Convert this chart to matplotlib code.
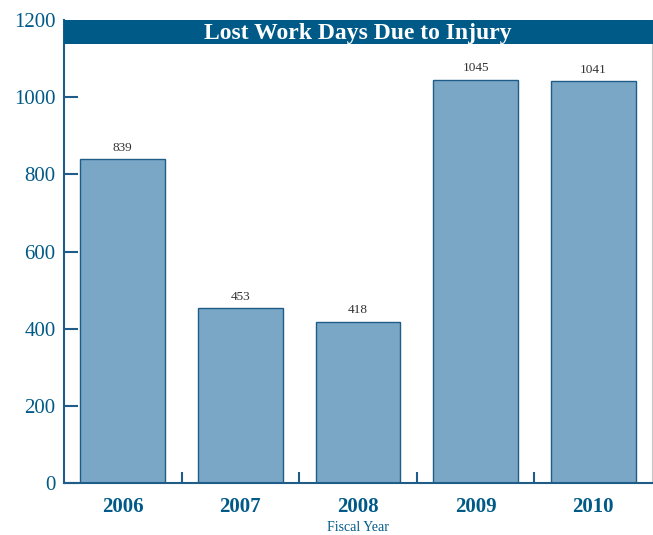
import matplotlib
matplotlib.use("Agg")
import matplotlib.pyplot as plt
from matplotlib.patches import Rectangle

years = ["2006", "2007", "2008", "2009", "2010"]
days = [839, 453, 418, 1045, 1041]
yticks = [0, 200, 400, 600, 800, 1000, 1200]

navy = "#005a87"
edge = "#1f5d88"
fill = "#7ba7c7"

plt.rcParams["font.family"] = ["Liberation Serif", "DejaVu Serif"]

fig = plt.figure(figsize=(6.53, 5.35), dpi=100)
ax = fig.add_axes([0.098, 0.0972, 0.9005, 0.8654])

x = range(len(years))
ax.bar(x, days, width=0.72, color=fill, edgecolor=edge, linewidth=1.0, zorder=2)
for xi, v in zip(x, days):
    ax.annotate(str(v), (xi, v), xytext=(0, 4), textcoords="offset points",
                ha="center", va="bottom", fontsize=9.5, color="#333333")

ax.set_xlim(-0.5, 4.5)
ax.set_ylim(0, 1200)
ax.set_yticks(yticks)
ax.set_xticks(list(x))
ax.set_xticklabels(years, fontsize=15, fontweight="bold", color=navy)
ax.set_xticks([0.5, 1.5, 2.5, 3.5], minor=True)
ax.tick_params(axis="x", which="major", length=0, pad=10)
ax.tick_params(axis="x", which="minor", direction="in", length=8, width=1.5, color=edge)
ax.tick_params(axis="y", direction="in", length=10, width=1.5, color=edge,
               labelsize=15, labelcolor=navy, pad=6)
# the top tick sits under the banner
ax.yaxis.get_major_ticks()[-1].tick1line.set_visible(False)

for s in ["left", "bottom"]:
    ax.spines[s].set_color(edge)
    ax.spines[s].set_linewidth(1.5)
ax.spines["top"].set_visible(False)
ax.spines["right"].set_color("#c8c8c8")
ax.spines["right"].set_linewidth(0.8)

# title banner across the top of the plot
ax.add_patch(Rectangle((0, 0.948), 1.01, 0.052, transform=ax.transAxes,
                       facecolor=navy, edgecolor="none", clip_on=False, zorder=5))
ax.text(0.5, 0.971, "Lost Work Days Due to Injury", transform=ax.transAxes,
        ha="center", va="center", color="white", fontsize=17, fontweight="bold", zorder=6)

ax.set_xlabel("Fiscal Year", fontsize=10, color=navy, labelpad=3)

fig.savefig("out.png", dpi=100)
